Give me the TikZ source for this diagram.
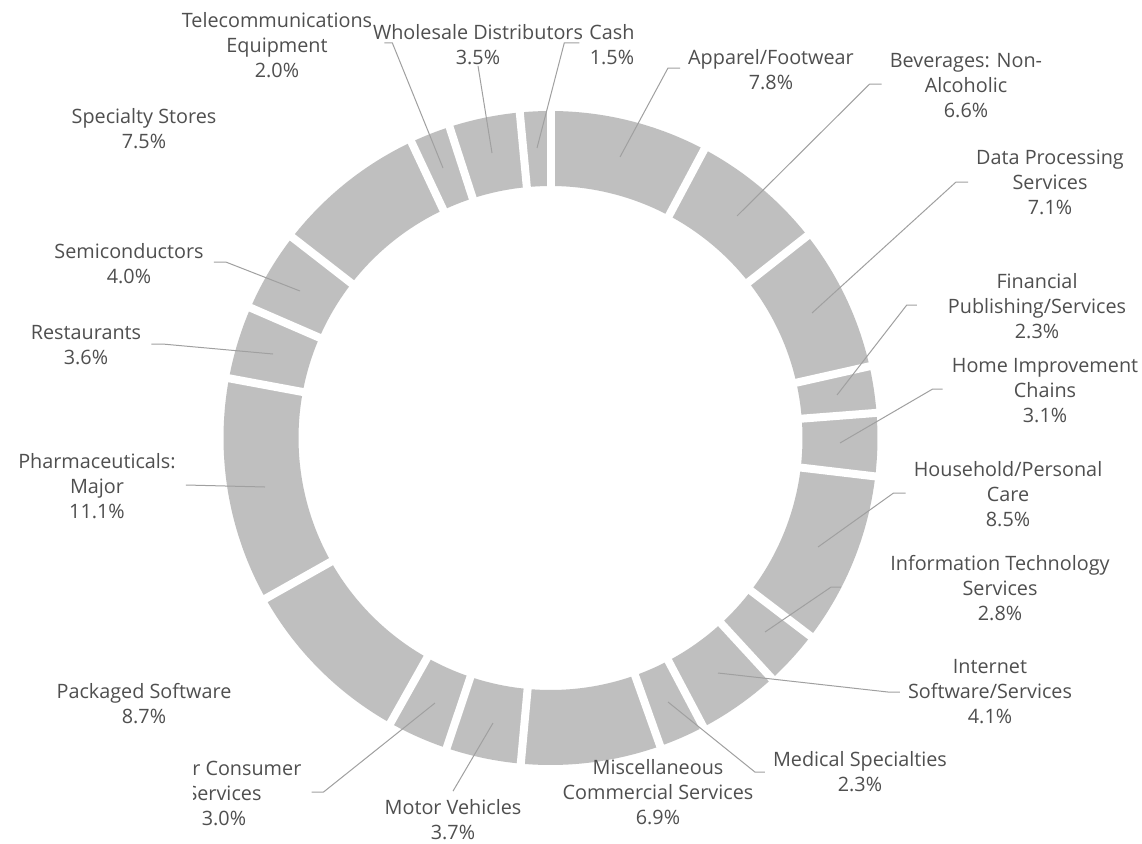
\documentclass[tikz,border=0pt]{standalone}
\usepackage{fontspec}
\setmainfont{Open Sans}
\usepackage{xcolor}
\definecolor{segfill}{HTML}{BFBFBF}
\definecolor{labeltext}{HTML}{4F4F4F}
\definecolor{leadercol}{HTML}{A0A0A0}

\begin{document}
\begin{tikzpicture}[x=1pt,y=1pt,
    lab/.style={align=center,inner sep=0pt,text=labeltext,font=\fontsize{19.8}{25}\selectfont},
    leader/.style={draw=leadercol,line width=1pt}]
    % Canvas
    \fill[white] (0,0) rectangle (1142,-843);

    % Ring segments, clockwise from the top
    \begin{scope}[shift={(550.5,-438)}]
      \foreach \s/\e in {0/7.8, 7.8/14.4, 14.4/21.5, 21.5/23.8, 23.8/26.9, 26.9/35.4,
          35.4/38.2, 38.2/42.3, 42.3/44.6, 44.6/51.5, 51.5/55.2, 55.2/58.2, 58.2/66.9,
          66.9/78.0, 78.0/81.6, 81.6/85.6, 85.6/93.1, 93.1/95.1, 95.1/98.6, 98.6/100.1} {
        \fill[segfill] ({90-3.5964*\s}:327) arc[start angle={90-3.5964*\s}, end angle={90-3.5964*\e}, radius=327]
          -- ({90-3.5964*\e}:252) arc[start angle={90-3.5964*\e}, end angle={90-3.5964*\s}, radius=252] -- cycle;
      }
      % White gaps
      \foreach \s in {0, 7.8, 14.4, 21.5, 23.8, 26.9, 35.4, 38.2, 42.3, 44.6, 51.5,
          55.2, 58.2, 66.9, 78.0, 81.6, 85.6, 93.1, 95.1, 98.6} {
        \draw[white,line width=8pt] ({90-3.5964*\s}:246) -- ({90-3.5964*\s}:333);
      }
    \end{scope}

    % Leader ends inside the segments
    \coordinate (tel-end) at (443,-168);
    \coordinate (whole-end) at (492,-153);
    \coordinate (cash-end) at (537,-148);
    \coordinate (app-end) at (620,-157);
    \coordinate (bev-end) at (737,-216);
    \coordinate (data-end) at (812,-313);
    \coordinate (fin-end) at (837,-395);
    \coordinate (home-end) at (840,-443);
    \coordinate (hh-end) at (818,-547);
    \coordinate (it-end) at (765,-632);
    \coordinate (inet-end) at (718,-673);
    \coordinate (med-end) at (668,-702);
    \coordinate (motor-end) at (493,-723);
    \coordinate (other-end) at (435,-703);
    \coordinate (pharma-end) at (265,-487);
    \coordinate (rest-end) at (273,-354);
    \coordinate (semi-end) at (300,-291);

    % Labels
    \node[lab] (tel) at (277,-45) {Telecommunications\\Equipment\\2.0\%};
    \node[lab] (whole) at (478,-44.5) {Wholesale Distributors\\3.5\%};
    \node[lab] (cash) at (612,-44.5) {Cash\\1.5\%};
    \node[lab] (app) at (771,-69.5) {Apparel/Footwear\\7.8\%};
    \node[lab] (bev) at (966,-86) {Beverages: Non-\\Alcoholic\\6.6\%};
    \node[lab] (data) at (1050,-182) {Data Processing\\Services\\7.1\%};
    \node[lab] (fin) at (1037,-306) {Financial\\Publishing/Services\\2.3\%};
    \node[lab] (home) at (1045,-391) {Home Improvement\\Chains\\3.1\%};
    \node[lab] (hh) at (1008,-494) {Household/Personal\\Care\\8.5\%};
    \node[lab] (it) at (1000,-588) {Information Technology\\Services\\2.8\%};
    \node[lab] (inet) at (990,-692) {Internet\\Software/Services\\4.1\%};
    \node[lab] (med) at (860,-772) {Medical Specialties\\2.3\%};
    \node[lab] (misc) at (658,-792) {Miscellaneous\\Commercial Services\\6.9\%};
    \node[lab] (motor) at (453,-820) {Motor Vehicles\\3.7\%};
    \begin{scope}
      \clip (193,0) rectangle (1142,-843);
      \node[lab] (other) at (224,-793) {Other Consumer\\Services\\3.0\%};
    \end{scope}
    \node[lab] (pack) at (144,-704) {Packaged Software\\8.7\%};
    \node[lab] (pharma) at (97,-486) {Pharmaceuticals:\\Major\\11.1\%};
    \node[lab] (rest) at (86,-345.5) {Restaurants\\3.6\%};
    \node[lab] (semi) at (129,-264) {Semiconductors\\4.0\%};
    \node[lab] (spec) at (144,-129) {Specialty Stores\\7.5\%};

    % Leader lines
    \draw[leader] ([xshift=12pt,yshift=2pt]tel.east) -- ++(8,0) -- (tel-end);
    \draw[leader] ([yshift=-1pt]whole.south) -- (whole-end);
    \draw[leader] ([xshift=-10pt,yshift=1.5pt]cash.west) -- ++(-15,0) -- (cash-end);
    \draw[leader] ([xshift=-8pt,yshift=1.5pt]app.west) -- ++(-12,0) -- (app-end);
    \draw[leader] ([xshift=-8pt,yshift=2pt]bev.west) -- ++(-12,0) -- (bev-end);
    \draw[leader] ([xshift=-8pt]data.west) -- ++(-12,0) -- (data-end);
    \draw[leader] ([xshift=-31pt,yshift=1pt]fin.west) -- ++(-10,0) -- (fin-end);
    \draw[leader] ([xshift=-9pt,yshift=2pt]home.west) -- ++(-10,0) -- (home-end);
    \draw[leader] ([xshift=-8pt,yshift=1pt]hh.west) -- ++(-12,0) -- (hh-end);
    \draw[leader] ([xshift=-49pt,yshift=1pt]it.west) -- ++(-10,0) -- (it-end);
    \draw[leader] ([xshift=-8pt]inet.west) -- ++(-12,0) -- (inet-end);
    \draw[leader] ([xshift=-8pt]med.west) -- ++(-10,0) -- (med-end);
    \draw[leader] ([yshift=8.5pt]motor.north) -- (motor-end);
    \draw[leader] ([xshift=10pt,yshift=1pt]other.east) -- ++(12,0) -- (other-end);
    \draw[leader] ([xshift=10pt,yshift=1pt]pharma.east) -- (pharma-end);
    \draw[leader] ([xshift=10pt,yshift=1.5pt]rest.east) -- ++(11,0) -- (rest-end);
    \draw[leader] ([xshift=10pt,yshift=2pt]semi.east) -- ++(12,0) -- (semi-end);
\end{tikzpicture}
\end{document}
